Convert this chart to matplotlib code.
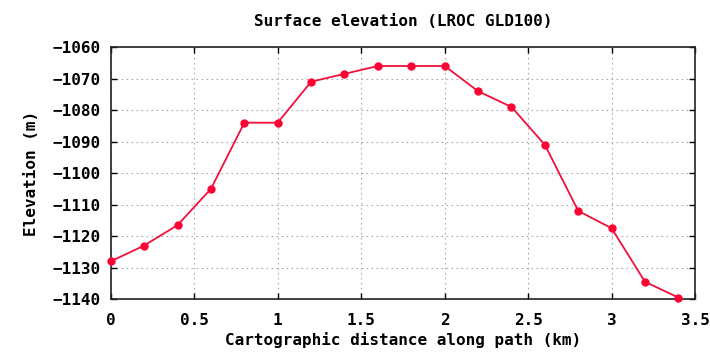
import matplotlib
matplotlib.use("Agg")
import matplotlib.pyplot as plt

distance_km = [0.0, 0.2, 0.4, 0.6, 0.8, 1.0, 1.2, 1.4, 1.6, 1.8, 2.0, 2.2, 2.4, 2.6, 2.8, 3.0, 3.2, 3.4]
elevation_m = [-1128, -1123, -1116.5, -1105, -1084, -1084, -1071, -1068.5, -1066, -1066, -1066,
               -1074, -1079, -1091, -1112, -1117.5, -1134.5, -1139.5]
x_ticks = [0, 0.5, 1, 1.5, 2, 2.5, 3, 3.5]
x_tick_labels = ["0", "0.5", "1", "1.5", "2", "2.5", "3", "3.5"]
y_ticks = [-1140, -1130, -1120, -1110, -1100, -1090, -1080, -1070, -1060]

plt.rcParams['font.family'] = ['DejaVu Sans Mono']
plt.rcParams['font.weight'] = 'bold'

fig = plt.figure(figsize=(7.1, 3.54), dpi=100)
ax = fig.add_axes([0.156, 0.155, 0.823, 0.712])

ax.plot(distance_km, elevation_m, color='#f0103c', lw=1.3, marker='o', ms=5,
        markerfacecolor='#ff0033', markeredgecolor='#ff0033', zorder=3, clip_on=False)

ax.set_xlim(0, 3.5)
ax.set_ylim(-1140, -1060)
ax.set_xticks(x_ticks)
ax.set_xticklabels(x_tick_labels)
ax.set_yticks(y_ticks)
ax.set_yticklabels([str(v).replace('-', '\u2212') for v in y_ticks])

ax.grid(True, color='#aaaaaa', linestyle=(0, (1.5, 3)), lw=0.8)
ax.tick_params(direction='in', top=True, right=True, length=4, width=1, labelsize=11.5)
ax.tick_params(axis='x', pad=10)
ax.tick_params(axis='y', pad=7)
for s in ax.spines.values():
    s.set_linewidth(1.2)
    s.set_color('#222222')

ax.set_title("Surface elevation (LROC GLD100)", fontsize=11.5, fontweight='bold', pad=15)
ax.set_xlabel("Cartographic distance along path (km)", fontsize=11.5, fontweight='bold', labelpad=3)
ax.set_ylabel("Elevation (m)", fontsize=11.5, fontweight='bold', labelpad=10)

fig.savefig("out.png", dpi=100)
